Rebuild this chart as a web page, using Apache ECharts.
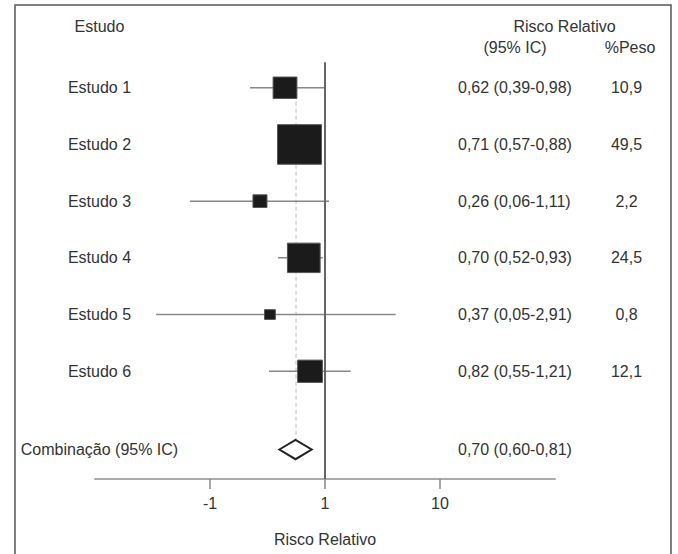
<!DOCTYPE html>
<html lang="pt">
<head>
    <meta charset="UTF-8">
    <title>Forest plot</title>
    <script src="https://cdn.jsdelivr.net/npm/echarts@6/dist/echarts.min.js"></script>
    <style>
        * { padding: 0; margin: 0; }
        body { background: #fff; }
    </style>
</head>
<body>
<div id="forest" style="width: 678px;height:554px;"></div>
<script>
    // rows / texts
    var studies = ['Estudo 1', 'Estudo 2', 'Estudo 3', 'Estudo 4', 'Estudo 5', 'Estudo 6'];
    var rrText = ['0,62 (0,39-0,98)', '0,71 (0,57-0,88)', '0,26 (0,06-1,11)', '0,70 (0,52-0,93)', '0,37 (0,05-2,91)', '0,82 (0,55-1,21)'];
    var weights = [10.9, 49.5, 2.2, 24.5, 0.8, 12.1];
    // positions of the marks (log axis)
    var pointEst = [0.449, 0.600, 0.272, 0.654, 0.332, 0.741];
    var ciLow = [0.223, 0.47, 0.067, 0.390, 0.034, 0.326];
    var ciHigh = [1.0, 0.88, 1.083, 0.955, 4.12, 1.673];
    var rows = [1, 2, 3, 4, 5, 6];
    var pooledLabel = 'Combinação (95% IC)';
    var pooledText = '0,70 (0,60-0,81)';
    var pooledRow = 7.38;
    var pooledEst = 0.554, pooledLow = 0.401, pooledHigh = 0.766;
    var pooledLine = 0.56;
    var xTicks = [0.1, 1, 10];
    var xTickLabels = ['-1', '1', '10'];

    var font = "'Liberation Sans', Arial, Helvetica, sans-serif";
    var txt = '#333';

    var labelRows = rows.concat([pooledRow]);
    var leftLabels = studies.concat([pooledLabel]);
    var rrLabels = rrText.concat([pooledText]);
    var weightLabels = weights.map(w => String(w).replace('.', ','));

    function rowLabel(list, values) {
        return function (v) {
            for (var i = 0; i < values.length; i++) {
                if (Math.abs(values[i] - v) < 1e-6) return list[i];
            }
            return '';
        };
    }

    function yAx(extra) {
        return Object.assign({
            type: 'value', inverse: true, min: -0.2, max: 7.9,
            axisLine: {show: false}, axisTick: {show: false}, splitLine: {show: false}
        }, extra);
    }

    var chart = echarts.init(document.getElementById('forest'), null, {renderer: 'svg'});
    var option = {
        animation: false,
        textStyle: {fontFamily: font},
        grid: {left: 95, right: 123, top: 19.7, bottom: 75, outerBoundsMode: 'none'},
        xAxis: {
            type: 'log', logBase: 10, min: 0.01, max: 100, position: 'bottom',
            name: 'Risco Relativo', nameLocation: 'middle', nameGap: 52,
            nameTextStyle: {fontSize: 16, color: txt, fontFamily: font},
            axisLine: {onZero: false, lineStyle: {color: '#aaa', width: 2}},
            axisTick: {show: true, inside: false, length: 10, customValues: xTicks,
                lineStyle: {color: '#888', width: 1.5}},
            axisLabel: {customValues: xTicks, margin: 16, fontSize: 16, color: txt, fontFamily: font,
                formatter: v => xTickLabels[xTicks.findIndex(t => Math.abs(t - v) < 1e-9)] || ''},
            splitLine: {show: false}, minorTick: {show: false}
        },
        yAxis: [
            yAx({position: 'left', axisLabel: {customValues: labelRows, formatter: rowLabel(leftLabels, labelRows),
                align: 'center', margin: -4.5, fontSize: 16, color: txt, fontFamily: font}}),
            yAx({position: 'right', axisLabel: {customValues: labelRows, formatter: rowLabel(rrLabels, labelRows),
                align: 'left', margin: -97, fontSize: 16, color: txt, fontFamily: font}}),
            yAx({position: 'right', axisLabel: {customValues: rows, formatter: rowLabel(weightLabels, rows),
                align: 'center', margin: 71.5, fontSize: 16, color: txt, fontFamily: font}})
        ],
        graphic: [
            {type: 'rect', shape: {x: 15, y: 5, width: 656, height: 600}, silent: true,
                style: {fill: 'none', stroke: '#555', lineWidth: 1.5}},
            {type: 'text', x: 99.5, y: 26, style: {text: 'Estudo', align: 'center', verticalAlign: 'middle',
                font: '16px ' + font, fill: txt}},
            {type: 'text', x: 564.5, y: 26, style: {text: 'Risco Relativo', align: 'center', verticalAlign: 'middle',
                font: '16px ' + font, fill: txt}},
            {type: 'text', x: 515, y: 47, style: {text: '(95% IC)', align: 'center', verticalAlign: 'middle',
                font: '16px ' + font, fill: txt}},
            {type: 'text', x: 630, y: 47, style: {text: '%Peso', align: 'center', verticalAlign: 'middle',
                font: '16px ' + font, fill: txt}}
        ],
        series: [
            {
                // dashed line through the pooled estimate
                type: 'line', z: 1, symbol: 'none', silent: true,
                data: [[pooledLine, 1.0], [pooledLine, 7.2]],
                lineStyle: {color: '#bbb', width: 1, type: [4, 3]}
            },
            {
                // line of no effect
                type: 'line', z: 3, symbol: 'none', silent: true,
                data: [[1, 0.55], [1, 7.9]],
                lineStyle: {color: '#666', width: 2}
            },
            {
                type: 'custom', z: 2, silent: true,
                encode: {x: [0, 1], y: 2},
                data: rows.map((r, i) => [ciLow[i], ciHigh[i], r]),
                renderItem: function (params, api) {
                    var a = api.coord([api.value(0), api.value(2)]);
                    var b = api.coord([api.value(1), api.value(2)]);
                    return {type: 'line', shape: {x1: a[0], y1: a[1], x2: b[0], y2: b[1]},
                        style: {stroke: '#888', lineWidth: 1.5}};
                }
            },
            {
                type: 'custom', z: 4, silent: true,
                encode: {x: 0, y: 1},
                data: rows.map((r, i) => [pointEst[i], r, weights[i]]),
                renderItem: function (params, api) {
                    var p = api.coord([api.value(0), api.value(1)]);
                    var w = 5.4 * Math.sqrt(api.value(2)) + 6;
                    var h = w * 0.9;
                    return {type: 'rect', shape: {x: p[0] - w / 2, y: p[1] - h / 2, width: w, height: h},
                        style: {fill: '#1b1b1b', stroke: '#555', lineWidth: 1}};
                }
            },
            {
                type: 'custom', z: 4, silent: true,
                encode: {x: [0, 1, 2], y: 3},
                data: [[pooledLow, pooledEst, pooledHigh, pooledRow]],
                renderItem: function (params, api) {
                    var l = api.coord([api.value(0), api.value(3)]);
                    var c = api.coord([api.value(1), api.value(3)]);
                    var r = api.coord([api.value(2), api.value(3)]);
                    var hh = 9.7;
                    return {type: 'polygon',
                        shape: {points: [[l[0], l[1]], [c[0], c[1] - hh], [r[0], r[1]], [c[0], c[1] + hh]]},
                        style: {fill: '#fff', stroke: '#222', lineWidth: 2}};
                }
            }
        ]
    };
    chart.setOption(option);
</script>
</body>
</html>
